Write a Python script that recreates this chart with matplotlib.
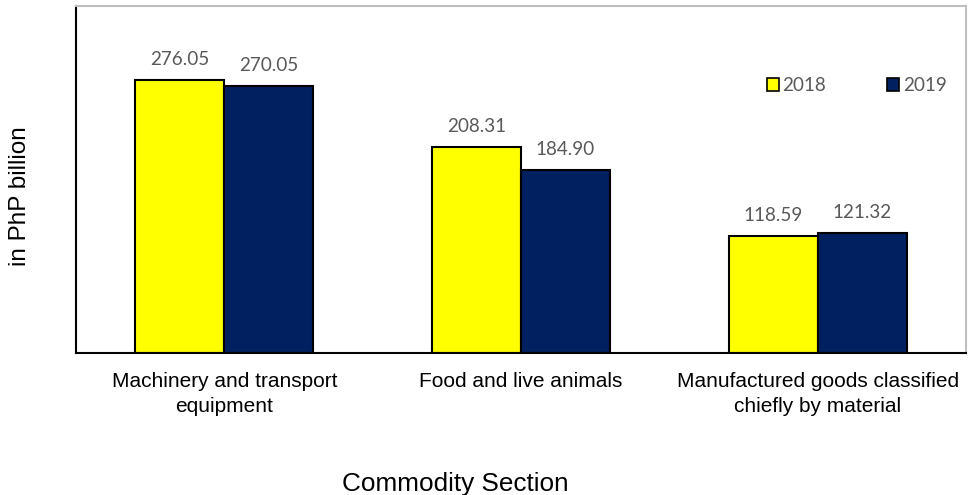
import numpy as np
import matplotlib.pyplot as plt
from matplotlib.patches import Patch

categories = ['Machinery and transport\nequipment', 'Food and live animals',
              'Manufactured goods classified\nchiefly by material']
years = ['2018', '2019']
v2018 = [276.05, 208.31, 118.59]
v2019 = [270.05, 184.90, 121.32]

yellow = '#FFFF00'
navy = '#002060'
gray = '#595959'

fig = plt.figure(figsize=(9.69, 4.95), dpi=100)
ax = fig.add_axes([76 / 969, 1 - 353 / 495, 890 / 969, 347 / 495])

x = np.arange(len(categories))
w = 0.3
b1 = ax.bar(x - w / 2, v2018, w, color=yellow, edgecolor='black', linewidth=1.5)
b2 = ax.bar(x + w / 2, v2019, w, color=navy, edgecolor='black', linewidth=1.5)

# value labels above bars
for bars, vals in [(b1, v2018), (b2, v2019)]:
    for r, v in zip(bars, vals):
        ax.text(r.get_x() + r.get_width() / 2, v + 12, f'{v:.2f}',
                ha='center', va='bottom', fontsize=13.6, color=gray, family='Lato')

ax.set_xlim(-0.5, 2.5)
ax.set_ylim(0, 351)
ax.set_yticks([])
ax.set_xticks(x)
ax.set_xticklabels(categories, fontsize=15, family='Liberation Sans',
                   linespacing=1.35)
ax.tick_params(axis='x', length=0, pad=14)

for s in ['left', 'bottom']:
    ax.spines[s].set_color('black')
    ax.spines[s].set_linewidth(1.5)
for s in ['top', 'right']:
    ax.spines[s].set_color('#BFBFBF')
    ax.spines[s].set_linewidth(1.5)

handles = [Patch(facecolor=yellow, edgecolor='black', linewidth=1.2),
           Patch(facecolor=navy, edgecolor='black', linewidth=1.2)]
leg = ax.legend(handles, years, loc='center', bbox_to_anchor=(0.877, 0.77),
                ncol=2, frameon=False, handlelength=0.65, handleheight=0.65,
                handletextpad=0.2, columnspacing=3.2,
                prop={'family': 'Lato', 'size': 13.6})
for t in leg.get_texts():
    t.set_color(gray)

fig.text(20 / 969, 1 - 196 / 495, 'in PhP billion', rotation=90, ha='center',
         va='center', fontsize=17.5, family='Liberation Sans')
fig.text(455 / 969, 1 - 484 / 495, 'Commodity Section', ha='center',
         va='center', fontsize=18.8, family='Liberation Sans')

fig.savefig('out.png', dpi=100)
